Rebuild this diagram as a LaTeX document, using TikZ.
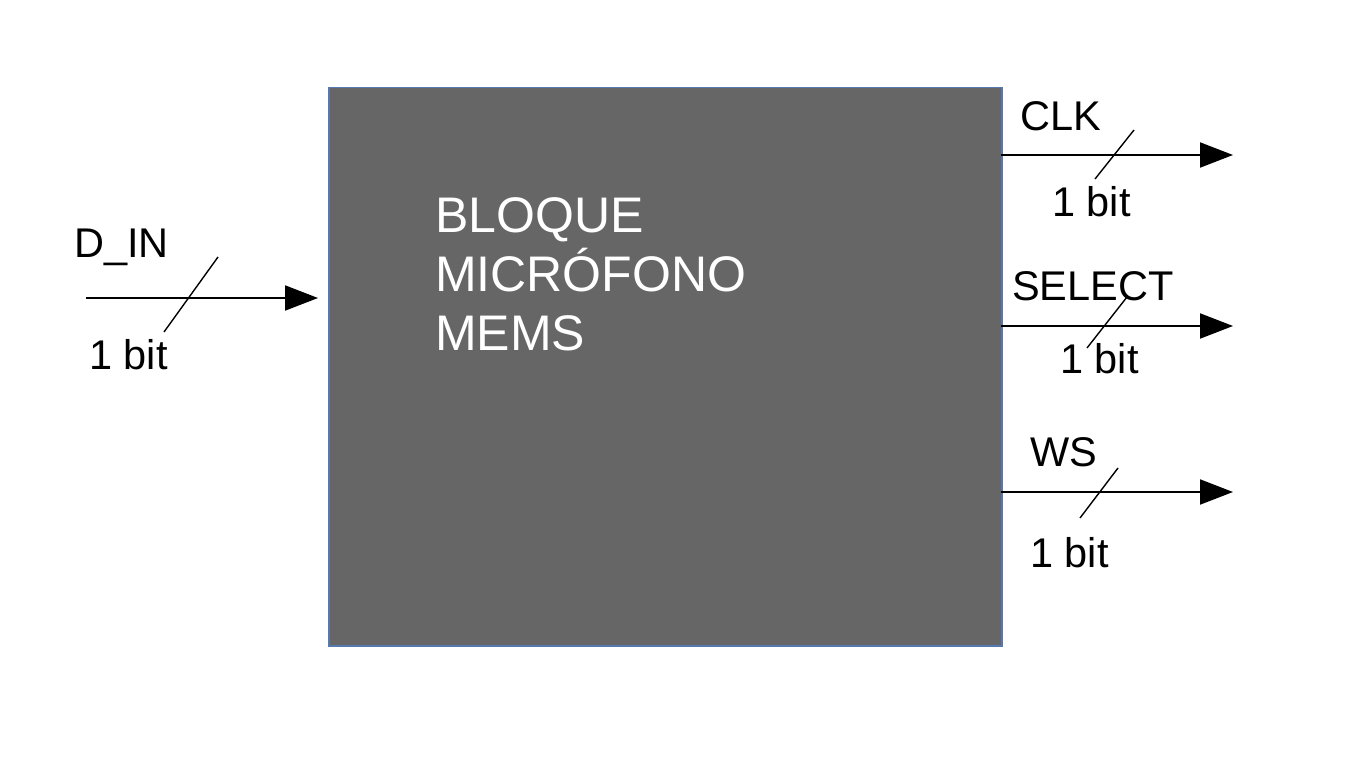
\documentclass[tikz,border=0pt]{standalone}
\usepackage{fontspec}
\setmainfont{Liberation Sans}
\usetikzlibrary{arrows.meta}
\definecolor{boxfill}{HTML}{666666}
\definecolor{boxline}{HTML}{5579B0}
\tikzset{
  blockbox/.style={draw=boxline, line width=1.5pt, fill=boxfill, inner sep=0pt},
  sig/.style={line width=2pt, -{Triangle[length=33pt,width=25pt]}},
  busmark/.style={line width=1.4pt},
  lbl/.style={anchor=base west, inner sep=0pt, font=\fontsize{41.5}{48}\selectfont},
  boxtxt/.style={anchor=base west, inner sep=0pt, text=white, font=\fontsize{50}{60}\selectfont}
}
\begin{document}
\begin{tikzpicture}[x=1pt,y=-1pt]
\useasboundingbox (0,0) rectangle (1366,768);
\fill[white] (0,0) rectangle (1366,768);
% block
\node[blockbox, minimum width=673pt, minimum height=558pt, anchor=north west] (blk) at (328,87) {};
\node[boxtxt] (t1) at (435,232) {BLOQUE};
\node[boxtxt] (t2) at (435,291) {MICRÓFONO};
\node[boxtxt] (t3) at (435,350) {MEMS};
% input D_IN
\coordinate (din0) at (86,298);
\coordinate (din1) at (blk.west |- din0);
\draw[sig] (din0) -- ([xshift=-10pt]din1);
\coordinate (dinA) at (218,257);
\coordinate (dinB) at (164,332);
\draw[busmark] (dinA) -- (dinB);
\node[lbl] (ldin) at (74,257) {D\_IN};
\node[lbl] (bdin) at (89,369) {1 bit};
% CLK
\coordinate (clk0) at (1001,155);
\coordinate (clk1) at (1233,155);
\draw[sig] (clk0) -- (clk1);
\coordinate (clkA) at (1134,130);
\coordinate (clkB) at (1095,179);
\draw[busmark] (clkA) -- (clkB);
\node[lbl] (lclk) at (1020,130) {CLK};
\node[lbl] (bclk) at (1052,216) {1 bit};
% SELECT
\coordinate (sel0) at (1001,326);
\coordinate (sel1) at (1233,326);
\draw[sig] (sel0) -- (sel1);
\coordinate (selA) at (1127,297);
\coordinate (selB) at (1087,348);
\draw[busmark] (selA) -- (selB);
\node[lbl] (lsel) at (1012,300) {SELECT};
\node[lbl] (bsel) at (1060,373) {1 bit};
% WS
\coordinate (ws0) at (1001,492);
\coordinate (ws1) at (1233,492);
\draw[sig] (ws0) -- (ws1);
\coordinate (wsA) at (1118,468);
\coordinate (wsB) at (1080,518);
\draw[busmark] (wsA) -- (wsB);
\node[lbl] (lws) at (1030,466) {WS};
\node[lbl] (bws) at (1030,567) {1 bit};
\end{tikzpicture}
\end{document}
